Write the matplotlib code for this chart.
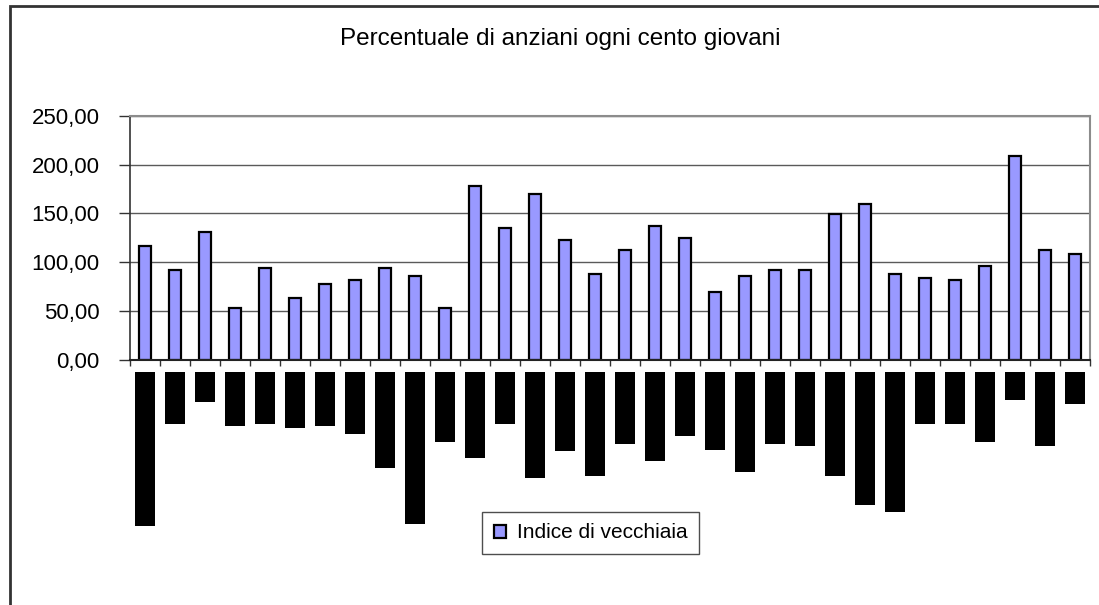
import numpy as np
import matplotlib
matplotlib.use("Agg")
import matplotlib.pyplot as plt
from matplotlib.patches import Rectangle
from matplotlib.ticker import FuncFormatter

plt.rcParams['font.family'] = ['Liberation Sans', 'DejaVu Sans']

TITLE = "Percentuale di anziani ogni cento giovani"
SERIES_NAME = "Indice di vecchiaia"

# indice di vecchiaia per comune (32 comuni)
indice = [116.7, 92.3, 130.9, 53.2, 94.6, 63.5, 78.1, 82.0,
          94.6, 86.0, 53.2, 178.2, 135.3, 170.3, 123.0, 87.9,
          112.8, 137.2, 125.0, 69.8, 86.0, 92.3, 92.3, 149.8,
          160.1, 87.9, 84.4, 82.0, 96.2, 208.6, 112.8, 108.8]

# the rotated category names came out as solid black blocks; their depth below the axis
label_depth = [154, 52, 30, 54, 52, 56, 54, 62,
               96, 152, 70, 86, 52, 106, 79, 104,
               72, 89, 64, 78, 100, 72, 74, 104,
               133, 140, 52, 52, 70, 28, 74, 32]

y_ticks = [0, 50, 100, 150, 200, 250]

W, H = 1099, 605
fig = plt.figure(figsize=(W / 100, H / 100), dpi=100)
fig.patch.set_facecolor('white')

x = np.arange(len(indice))

ax = fig.add_axes([130 / W, 1 - 360 / H, 960 / W, 244.3 / H])
bars = ax.bar(x, indice, width=0.42, color='#9999ff', edgecolor='black',
              linewidth=1.6, label=SERIES_NAME, zorder=3)
ax.set_xlim(-0.5, len(indice) - 0.5)
ax.set_ylim(0, 250)
ax.set_yticks(y_ticks)
ax.yaxis.set_major_formatter(FuncFormatter(lambda v, p: f"{v:.2f}".replace('.', ',')))
ax.grid(axis='y', color='#5a5a5a', linewidth=1, zorder=0)
ax.set_xticks(np.arange(len(indice) + 1) - 0.5)
ax.set_xticklabels([])
ax.tick_params(axis='x', length=4, width=1, color='#333333', direction='out')
ax.tick_params(axis='y', length=8, width=1, color='#333333', pad=14, labelsize=16)
for s in ['top', 'right']:
    ax.spines[s].set_color('#8c8c8c')
    ax.spines[s].set_linewidth(1.5)
ax.spines['left'].set_color('#333333')
ax.spines['left'].set_linewidth(1.2)
ax.spines['bottom'].set_color('#222222')
ax.spines['bottom'].set_linewidth(1.5)
ax.spines['bottom'].set_zorder(4)

# category label blocks below the axis
ax2 = fig.add_axes([130 / W, 1 - 572 / H, 960 / W, 200 / H])
ax2.bar(x, label_depth, width=0.667, color='black', linewidth=0)
ax2.set_xlim(-0.5, len(indice) - 0.5)
ax2.set_ylim(200, 0)
ax2.axis('off')

fig.text(560 / W, 1 - 39 / H, TITLE, ha='center', va='center', fontsize=17.5)

leg = fig.legend(handles=[bars], labels=[SERIES_NAME], loc='center',
                 bbox_to_anchor=(590.5 / W, 1 - 533 / H), fontsize=15,
                 frameon=True, fancybox=False, shadow=False,
                 handlelength=0.6, handleheight=0.6, handletextpad=0.5,
                 borderpad=0.55, borderaxespad=0)
leg.get_frame().set_edgecolor('#222222')
leg.get_frame().set_linewidth(1.0)

# outer chart border (runs off the right and bottom of the image)
fig.patches.append(Rectangle((9.5 / W, -0.2), 1.5, 1.2 - 6 / H + 0.0,
                             transform=fig.transFigure, fill=False,
                             edgecolor='#333333', linewidth=2))

fig.savefig('out.png', dpi=100)
